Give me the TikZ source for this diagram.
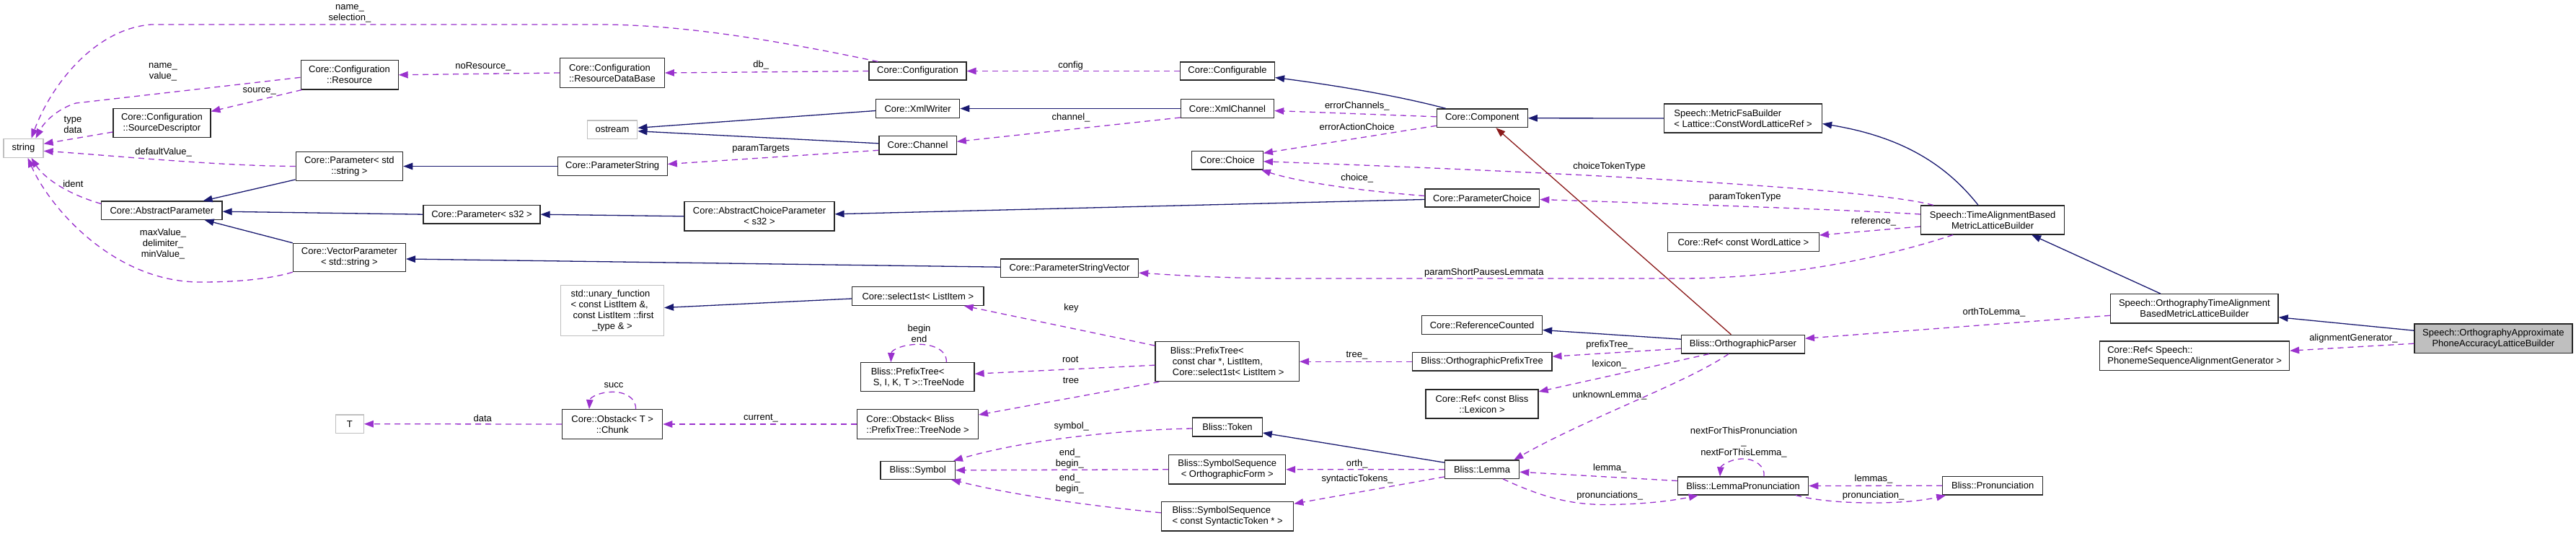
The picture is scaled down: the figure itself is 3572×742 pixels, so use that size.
\documentclass[tikz,border=0pt]{standalone}
\usepackage{fontspec}
\setmainfont{Liberation Sans}
\usetikzlibrary{arrows.meta,calc}
\definecolor{dxpurple}{HTML}{9A32CD}
\definecolor{dxblue}{HTML}{191970}
\definecolor{dxred}{HTML}{8B1A1A}
\definecolor{dxgray}{HTML}{BFBFBF}
\newcommand\fsz{\fontsize{13}{15}\selectfont}
\tikzset{
  sz/.style 2 args={minimum width=#1pt, minimum height=#2pt},
  cls/.style={draw=black!85, line width=1.2pt, fill=white, inner sep=0pt, align=center, font=\fsz},
  ext/.style={cls, draw=dxgray},
  lbl/.style={inner sep=0pt, align=center, font=\fsz},
  tipx/.style={-{Triangle[length=13pt,width=9.5pt]}},
  usage/.style={draw=dxpurple, line width=1.3pt, dash pattern=on 8pt off 6pt, tipx},
  inherit/.style={draw=dxblue, line width=1.3pt, tipx},
  privinh/.style={draw=dxred, line width=1.3pt, tipx}
}
\begin{document}
\begin{tikzpicture}[x=1pt,y=-1pt]
\path[use as bounding box] (0,0) rectangle (3572,742);

% ---------- classes ----------
\node[ext, sz={55}{26}] (string) at (32.5,205.3) {string};
\node[cls, sz={135}{40.3}] (res) at (484.6,103.8) {Core::Configuration\\::Resource};
\node[cls, sz={135}{40.3}] (srcd) at (224.4,170.5) {Core::Configuration\\::SourceDescriptor};
\node[cls, sz={148.5}{39.7}] (pstr) at (484.4,230.5) {Core::Parameter< std\\::string >};
\node[cls, sz={167.2}{25.3}] (absp) at (224.4,291.7) {Core::AbstractParameter};
\node[cls, sz={156}{39.3}] (vecp) at (484.4,357) {Core::VectorParameter\\< std::string >};
\node[cls, sz={144.7}{40.6}, align=left] (rdb) at (849,101) {Core::Configuration\\::ResourceDataBase};
\node[ext, sz={69.7}{25.7}] (ostr) at (849,179.8) {ostream};
\node[cls, sz={152}{25.7}] (pstring) at (849.2,230.5) {Core::ParameterString};
\node[cls, sz={162}{25.7}] (ps32) at (668,297.2) {Core::Parameter< s32 >};
\node[cls, sz={208}{40.3}] (acp) at (1053,299.8) {Core::AbstractChoiceParameter\\< s32 >};
\node[cls, sz={135}{25}] (conf) at (1272.5,98.5) {Core::Configuration};
\node[cls, sz={131}{25}] (confb) at (1702,98.5) {Core::Configurable};
\node[cls, sz={116.4}{25.7}] (xmlw) at (1272.6,150.5) {Core::XmlWriter};
\node[cls, sz={129.3}{25.7}] (xmlc) at (1702,150.5) {Core::XmlChannel};
\node[cls, sz={107.2}{25.3}] (chan) at (1272.6,201.3) {Core::Channel};
\node[cls, sz={98.7}{25.3}] (choice) at (1702,222.3) {Core::Choice};
\node[cls, sz={191.3}{25.3}] (psv) at (1483,371.7) {Core::ParameterStringVector};
\node[cls, sz={126}{25.7}] (comp) at (2055.3,163.8) {Core::Component};
\node[cls, sz={219}{40}, align=left] (mfb) at (2417,164) {Speech::MetricFsaBuilder\\< Lattice::ConstWordLatticeRef >};
\node[cls, sz={158.8}{25}] (pchoice) at (2055.3,274.5) {Core::ParameterChoice};
\node[cls, sz={209.6}{25.6}] (refwl) at (2417.4,335.5) {Core::Ref< const WordLattice >};
\node[cls, sz={199.3}{40}] (tabm) at (2763.1,305) {Speech::TimeAlignmentBased\\MetricLatticeBuilder};
\node[cls, sz={232.3}{40.3}] (otab) at (3042.9,427.8) {Speech::OrthographyTimeAlignment\\BasedMetricLatticeBuilder};
\node[cls, sz={262.7}{40.3}, align=left] (refpsa) at (3043.2,493.2) {Core::Ref< Speech::\\PhonemeSequenceAlignmentGenerator >};
\node[cls, sz={219}{40.3}, fill=dxgray] (main) at (3457.4,469.2) {Speech::OrthographyApproximate\\PhoneAccuracyLatticeBuilder};
\node[ext, sz={39}{25.3}] (tnode) at (484.8,587.7) {T};
\node[ext, sz={143}{69.7}] (unary) at (849,430.5) {\begin{tabular}{@{}l@{}}std::unary\_function\\< const ListItem \&,\\\hspace*{3pt}const ListItem ::first\\\multicolumn{1}{@{}c@{}}{\_type \& >}\end{tabular}};
\node[cls, sz={139}{40.6}] (chunk) at (849.2,588) {Core::Obstack< T >\\::Chunk};
\node[cls, sz={182.5}{25.6}] (sel) at (1272.8,410.5) {Core::select1st< ListItem >};
\node[cls, sz={157.2}{40}, align=left] (treen) at (1272.4,522.7) {Bliss::PrefixTree<\\\hspace*{3pt}S, I, K, T >::TreeNode};
\node[cls, sz={167.6}{40.6}, align=left] (obst) at (1272.6,588) {Core::Obstack< Bliss\\::PrefixTree::TreeNode >};
\node[cls, sz={103.3}{25}] (sym) at (1272.7,651.8) {Bliss::Symbol};
\node[cls, sz={199.4}{55}, align=left] (ptree) at (1701.7,501.2) {Bliss::PrefixTree<\\\hspace*{3pt}const char *, ListItem,\\\hspace*{3pt}Core::select1st< ListItem >};
\node[cls, sz={96.5}{26}] (token) at (1702,592) {Bliss::Token};
\node[cls, sz={161.8}{40.3}] (ssof) at (1701.7,650.8) {Bliss::SymbolSequence\\< OrthographicForm >};
\node[cls, sz={183.2}{40.3}, align=left] (ssst) at (1702.1,715.8) {Bliss::SymbolSequence\\< const SyntacticToken * >};
\node[cls, sz={166.8}{25.6}] (refc) at (2055.1,450.5) {Core::ReferenceCounted};
\node[cls, sz={193.6}{25.7}] (opt) at (2055.1,501.2) {Bliss::OrthographicPrefixTree};
\node[cls, sz={156.1}{40}] (reflex) at (2055,560) {Core::Ref< const Bliss\\::Lexicon >};
\node[cls, sz={103.3}{25.3}] (lemma) at (2055,650.7) {Bliss::Lemma};
\node[cls, sz={170.9}{25.7}] (oparser) at (2416.9,477.2) {Bliss::OrthographicParser};
\node[cls, sz={181.3}{25}] (lpron) at (2417,673.5) {Bliss::LemmaPronunciation};
\node[cls, sz={138.9}{25.7}] (pron) at (2763.2,673.2) {Bliss::Pronunciation};

% ---------- edge labels ----------
\node[lbl] (l1) at (485,19.2) {name\_\\selection\_};
\node[lbl] (l2) at (226,100) {name\_\\value\_};
\node[lbl] (l3) at (359.7,126.7) {source\_};
\node[lbl] (l4) at (101,173.3) {type\\data};
\node[lbl] (l5) at (226.6,210.7) {defaultValue\_};
\node[lbl] (l6) at (101.4,255.3) {ident};
\node[lbl] (l7) at (226,338) {maxValue\_\\delimiter\_\\minValue\_};
\node[lbl] (l8) at (670,92.7) {noResource\_};
\node[lbl] (l9) at (1055.3,90) {db\_};
\node[lbl] (l10) at (1484.6,90.7) {config};
\node[lbl] (l11) at (1485,162.7) {channel\_};
\node[lbl] (l12) at (1055,206.7) {paramTargets};
\node[lbl] (l13) at (1881.8,146.7) {errorChannels\_};
\node[lbl] (l14) at (1881.7,175.7) {errorActionChoice};
\node[lbl] (l15) at (2231.5,230.7) {choiceTokenType};
\node[lbl] (l16) at (1881.7,247.3) {choice\_};
\node[lbl] (l17) at (2419.7,272.7) {paramTokenType};
\node[lbl] (l18) at (2598,307.3) {reference\_};
\node[lbl] (l19) at (2057.8,378.3) {paramShortPausesLemmata};
\node[lbl] (l20) at (2764.9,432.7) {orthToLemma\_};
\node[lbl] (l21) at (3263.4,468.7) {alignmentGenerator\_};
\node[lbl] (l22) at (2231.9,478.3) {prefixTree\_};
\node[lbl] (l23) at (2231.5,505) {lexicon\_};
\node[lbl] (l24) at (2232,547.7) {unknownLemma\_};
\node[lbl] (l25) at (1881.4,492.7) {tree\_};
\node[lbl] (l26) at (1485.4,426.7) {key};
\node[lbl] (l27) at (1484.2,498.3) {root};
\node[lbl] (l28) at (1485,527.3) {tree};
\node[lbl] (l29) at (1274.5,462.5) {begin\\end};
\node[lbl] (l30) at (1055,580) {current\_};
\node[lbl] (l31) at (851,534.3) {succ};
\node[lbl] (l32) at (669.2,580) {data};
\node[lbl] (l33) at (1485.7,590.7) {symbol\_};
\node[lbl] (l34) at (1483.4,635.2) {end\_\\begin\_};
\node[lbl] (l35) at (1483.4,670.2) {end\_\\begin\_};
\node[lbl] (l36) at (1881.7,642.7) {orth\_};
\node[lbl] (l37) at (1882,664.3) {syntacticTokens\_};
\node[lbl] (l38) at (2232.3,648.7) {lemma\_};
\node[lbl] (l39) at (2232.3,686.7) {pronunciations\_};
\node[lbl] (l40) at (2418,613.2) {nextForThisPronunciation\\\_\\nextForThisLemma\_};
\node[lbl] (l41) at (2598,664.3) {lemmas\_};
\node[lbl] (l42) at (2597.6,686.7) {pronunciation\_};

% ---------- usage (dashed) ----------
\draw[usage] ($(conf.north west)+(13,0)$) .. controls (1050,50) and (930,34) .. (830,34) -- (210,34) .. controls (130,40) and (70,120) .. ($(string.north)+(11,0)$);
\draw[usage] ($(res.west)+(0,3.5)$) -- (105,143) .. controls (80,151) and (62,168) .. ($(string.north)+(17,0)$);
\draw[usage] ($(res.south west)+(2,0)$) -- ($(srcd.east)+(0,-16)$);
\draw[usage] ($(srcd.west)+(0,12.5)$) -- ($(string.east)+(0,-6)$);
\draw[usage] (pstr.west) .. controls (300,230) and (150,215) .. ($(string.east)+(0,4)$);
\draw[usage] ($(absp.north west)+(0,4)$) .. controls (90,268) and (60,245) .. ($(string.south)+(11,0)$);
\draw[usage] (vecp.south west) .. controls (370,388) and (320,391) .. (279,391) .. controls (160,392) and (70,290) .. ($(string.south)+(6,0)$);
\draw[usage] (rdb.west) -- (res.east);
\draw[usage] (conf.west) -- (rdb.east);
\draw[usage] (confb.west) -- (conf.east);
\draw[usage] ($(xmlc.south west)+(0,-1)$) -- ($(chan.east)+(0,-5)$);
\draw[usage] ($(chan.west)+(0,7)$) -- ($(pstring.east)+(0,-3)$);
\draw[usage] ($(comp.west)+(0,-2)$) -- ($(xmlc.east)+(0,3)$);
\draw[usage] ($(comp.south west)+(0,-3)$) -- ($(choice.east)+(0,-10)$);
\draw[usage] ($(tabm.north west)+(18,0)$) .. controls (2600,262) and (2200,240) .. ($(choice.east)+(0,1.5)$);
\draw[usage] ($(pchoice.west)+(0,-3)$) .. controls (1880,264) and (1800,252) .. ($(choice.south east)+(-3,0)$);
\draw[usage] ($(tabm.west)+(0,-8)$) .. controls (2550,290) and (2300,282) .. ($(pchoice.east)+(0,2)$);
\draw[usage] ($(tabm.west)+(0,9)$) -- ($(refwl.east)+(0,-9.5)$);
\draw[usage] ($(tabm.south)+(-55,0)$) .. controls (2620,355) and (2480,386) .. (2330,386) -- (1800,386) .. controls (1700,386) and (1640,382) .. ($(psv.east)+(0,6.5)$);
\draw[usage] ($(otab.west)+(0,9.5)$) -- ($(oparser.east)+(0,-8)$);
\draw[usage] ($(main.west)+(0,7)$) -- ($(refpsa.east)+(0,-7)$);
\draw[usage] ($(oparser.west)+(0,6)$) -- ($(opt.east)+(0,-7)$);
\draw[usage] ($(oparser.south)+(-47,0)$) -- ($(reflex.north east)+(0,3.5)$);
\draw[usage] ($(oparser.south)+(-20,0)$) .. controls (2340,530) and (2200,580) .. ($(lemma.north east)+(-8,0)$);
\draw[usage] (opt.west) -- (ptree.east);
\draw[usage] ($(ptree.north west)+(0,6)$) -- ($(sel.south east)+(-28,0)$);
\draw[usage] ($(ptree.west)+(0,5)$) -- ($(treen.east)+(0,-4.5)$);
\draw[usage] ($(ptree.south west)+(6,0)$) -- ($(obst.east)+(0,-13)$);
\draw[usage] ($(treen.north)+(40,0)$) .. controls (1313,484) and (1292,477.3) .. (1274,477.3) .. controls (1252,477.3) and (1236,485) .. ($(treen.north)+(-37,0)$);
\draw[usage] (obst.west) -- (chunk.east);
\draw[usage] ($(chunk.north)+(32.4,0)$) .. controls (882,551) and (866,543.3) .. (850,543.3) .. controls (831,543.3) and (818,551) .. ($(chunk.north)+(-32.2,0)$);
\draw[usage] (chunk.west) -- (tnode.east);
\draw[usage] ($(token.west)+(0,2)$) .. controls (1550,596) and (1420,610) .. ($(sym.north east)+(-3,0)$);
\draw[usage] (ssof.west) -- (sym.east);
\draw[usage] ($(ssst.west)+(0,-5)$) .. controls (1500,700) and (1400,685) .. ($(sym.south east)+(-6,0)$);
\draw[usage] (lemma.west) -- (ssof.east);
\draw[usage] ($(lemma.south west)+(0,-3)$) -- ($(ssst.east)+(0,-17.5)$);
\draw[usage] ($(lpron.west)+(0,-7)$) -- ($(lemma.east)+(0,3.5)$);
\draw[usage] ($(lemma.south)+(29,0)$) .. controls (2140,690) and (2180,700) .. (2230,699.5) .. controls (2280,699) and (2320,694) .. ($(lpron.south west)+(29,0)$);
\draw[usage] ($(lpron.north)+(29,0)$) .. controls (2448,646) and (2433,636) .. (2417,636) .. controls (2399,636) and (2386,646) .. ($(lpron.north)+(-32,0)$);
\draw[usage] (pron.west) -- (lpron.east);
\draw[usage] ($(lpron.south east)+(-18,0)$) .. controls (2540,700) and (2640,700) .. ($(pron.south west)+(5,0)$);

% ---------- inheritance (solid) ----------
\draw[inherit] ($(pstr.south west)+(0,-2)$) -- ($(absp.north east)+(-27,0)$);
\draw[inherit] (ps32.west) -- ($(absp.east)+(0,1.5)$);
\draw[inherit] (vecp.north west) -- ($(absp.south east)+(-25,0)$);
\draw[inherit] (pstring.west) -- (pstr.east);
\draw[inherit] (acp.west) -- (ps32.east);
\draw[inherit] ($(psv.west)+(0,-1.5)$) -- ($(vecp.east)+(0,2)$);
\draw[inherit] ($(xmlw.west)+(0,3)$) -- ($(ostr.east)+(0,-2.5)$);
\draw[inherit] ($(chan.west)+(0,-2.5)$) -- ($(ostr.east)+(0,2)$);
\draw[inherit] (xmlc.west) -- (xmlw.east);
\draw[inherit] ($(comp.north west)+(13,0)$) .. controls (1940,133) and (1850,118) .. ($(confb.east)+(0,9)$);
\draw[inherit] (mfb.west) -- (comp.east);
\draw[inherit] ($(pchoice.west)+(0,2)$) -- ($(acp.east)+(0,-3)$);
\draw[inherit] ($(tabm.north)+(-20,0)$) .. controls (2700,230) and (2640,190) .. ($(mfb.east)+(0,7.5)$);
\draw[inherit] ($(otab.north)+(-47,0)$) -- ($(tabm.south)+(54,0)$);
\draw[inherit] ($(main.west)+(0,-11)$) -- ($(otab.east)+(0,12)$);
\draw[inherit] ($(oparser.west)+(0,-7)$) -- ($(refc.east)+(0,7)$);
\draw[inherit] ($(lemma.north west)+(0,3.7)$) -- ($(token.east)+(0,8)$);
\draw[inherit] ($(sel.west)+(0,3.5)$) -- ($(unary.east)+(0,-4)$);
\draw[privinh] ($(oparser.north)+(-16.5,0)$) -- ($(comp.south)+(19,0)$);
\end{tikzpicture}
\end{document}
